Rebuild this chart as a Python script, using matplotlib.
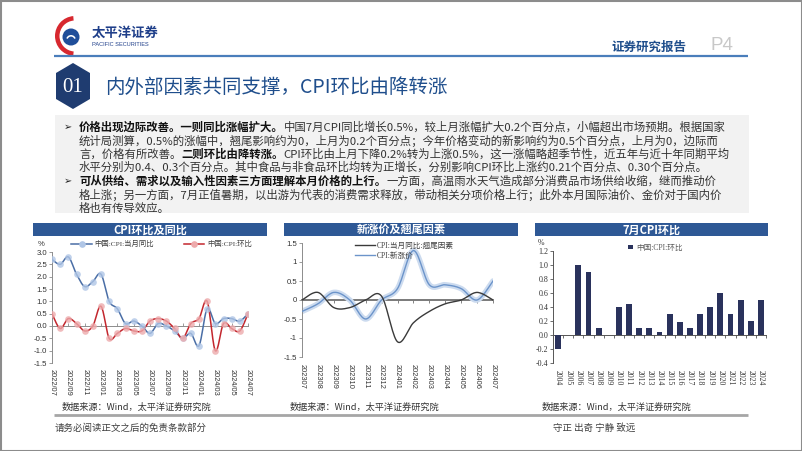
import numpy as np
import matplotlib.pyplot as plt
from matplotlib.patches import Polygon, Rectangle, Circle, Wedge
from matplotlib.lines import Line2D

# ---- data ----
# chart 1: CPI yoy / mom, 2022/07 - 2024/07
cpi_yoy = [2.7, 2.5, 2.8, 2.1, 1.6, 1.8, 2.1, 1.0, 0.7, 0.1, 0.2, 0.0, -0.3,
           0.1, 0.0, -0.2, -0.5, -0.3, -0.8, 0.7, 0.1, 0.3, 0.3, 0.2, 0.5]
cpi_mom = [0.5, -0.1, 0.3, 0.1, -0.2, 0.0, 0.8, -0.5, -0.3, -0.1, -0.2, -0.2, 0.2,
           0.3, 0.2, -0.1, -0.5, 0.1, 0.3, 1.0, -1.0, 0.1, -0.1, -0.2, 0.5]
c1_ticklabels = ['2022/07', '2022/09', '2022/11', '2023/01', '2023/03', '2023/05', '2023/07',
                 '2023/09', '2023/11', '2024/01', '2024/03', '2024/05', '2024/07']

# chart 2: tail factor / new price factor, 202307 - 202407
c2_months = ['202307', '202308', '202309', '202310', '202311', '202312', '202401',
             '202402', '202403', '202404', '202405', '202406', '202407']
tail_factor = [0.0, 0.2, -0.2, -0.2, 0.0, 0.1, -1.1, -0.6, -0.3, -0.1, 0.0, 0.2, 0.0]
new_factor = [-0.3, -0.1, 0.2, 0.0, -0.5, 0.0, 0.3, 1.3, 0.4, 0.4, 0.3, 0.0, 0.5]

# chart 3: July CPI mom by year
c3_years = ['2004', '2005', '2006', '2007', '2008', '2009', '2010', '2011', '2012', '2013', '2014',
            '2015', '2016', '2017', '2018', '2019', '2020', '2021', '2022', '2023', '2024']
july_mom = [-0.2, 0.0, 1.0, 0.9, 0.1, 0.0, 0.4, 0.45, 0.1, 0.1, 0.05,
            0.3, 0.19, 0.1, 0.3, 0.4, 0.6, 0.3, 0.5, 0.2, 0.5]

body_lines = [
    (True, [("价格出现边际改善。一则同比涨幅扩大。", True),
            ("中国7月CPI同比增长0.5%，较上月涨幅扩大0.2个百分点，小幅超出市场预期。根据国家", False)]),
    (False, [("统计局测算，0.5%的涨幅中，翘尾影响约为0，上月为0.2个百分点；今年价格变动的新影响约为0.5个百分点，上月为0，边际而", False)]),
    (False, [("言，价格有所改善。", False), ("二则环比由降转涨。", True),
             ("CPI环比由上月下降0.2%转为上涨0.5%，这一涨幅略超季节性，近五年与近十年同期平均", False)]),
    (False, [("水平分别为0.4、0.3个百分点。其中食品与非食品环比均转为正增长，分别影响CPI环比上涨约0.21个百分点、0.30个百分点。", False)]),
    (True, [("可从供给、需求以及输入性因素三方面理解本月价格的上行。", True),
            ("一方面，高温雨水天气造成部分消费品市场供给收缩，继而推动价", False)]),
    (False, [("格上涨；另一方面，7月正值暑期，以出游为代表的消费需求释放，带动相关分项价格上行；此外本月国际油价、金价对于国内价", False)]),
    (False, [("格也有传导效应。", False)]),
]

W, H = 802, 451
CJK = ['Noto Sans CJK SC', 'DejaVu Sans']
SANS = ['Liberation Sans', 'Noto Sans CJK SC']
SERIF = ['Liberation Serif', 'Noto Sans CJK SC']
BLUE_BAR = '#2E5895'
TXT = '#333333'

plt.rcParams['font.family'] = CJK
plt.rcParams['axes.unicode_minus'] = False

fig = plt.figure(figsize=(W / 100, H / 100), dpi=100)
bg = fig.add_axes([0, 0, 1, 1])
bg.set_xlim(0, W)
bg.set_ylim(H, 0)
bg.axis('off')
renderer = fig.canvas.get_renderer()


def add_ax(x0, y0, x1, y1):
    return fig.add_axes([x0 / W, 1 - y1 / H, (x1 - x0) / W, (y1 - y0) / H])


def smooth(y, n=16):
    # Excel-style smoothed line (Catmull-Rom through the data points)
    y = np.asarray(y, float)
    x = np.arange(len(y), dtype=float)
    xs, ys = [], []
    t = np.linspace(0, 1, n, endpoint=False)
    for i in range(len(y) - 1):
        i0 = max(i - 1, 0)
        i3 = min(i + 2, len(y) - 1)
        for arr, out in ((x, xs), (y, ys)):
            p0, p1, p2, p3 = arr[i0], arr[i], arr[i + 1], arr[i3]
            out.extend(0.5 * (2 * p1 + (p2 - p0) * t + (2 * p0 - 5 * p1 + 4 * p2 - p3) * t ** 2
                              + (-p0 + 3 * p1 - 3 * p2 + p3) * t ** 3))
    xs.append(x[-1])
    ys.append(y[-1])
    return xs, ys


# ---- page frame / header ----
bg.add_patch(Rectangle((0.5, 0.5), W - 1, H - 1, fill=False, ec='#8c8c8c', lw=1.5))

# logo
bg.add_patch(Wedge((75, 36), 20, 95, 265, width=4.5, fc='#D7282F', ec='none'))
bg.add_patch(Circle((71, 37), 8.5, fc='#1F4E9A', ec='none'))
bg.add_patch(Wedge((71, 40), 5, 200, 340, width=1.6, fc='white', ec='none'))
bg.text(92, 33, '太平洋证券', fontsize=9.6, fontweight='bold', color='#1F3F8A', va='center')
bg.text(92, 44.5, 'PACIFIC SECURITIES', fontsize=4.1, color='#1F3F8A', va='center', family=SANS)

bg.text(611, 47, '证券研究报告', fontsize=9, fontweight='bold', color='#1F4E8C', va='center')
bg.text(711, 46, 'P4', fontsize=13.5, color='#C8C8C8', va='center', family=SANS)
bg.plot([54, 748], [56, 56], color='#4A7EBB', lw=1.6, solid_capstyle='butt')

# section badge + title
bg.add_patch(Polygon([(56, 73), (73, 63), (90, 73), (90, 99), (73, 109), (56, 99)],
                     closed=True, fc='#1F3C70', ec='none'))
bg.text(73, 87, '01', fontsize=15, color='white', ha='center', va='center', family=SERIF)
bg.text(105, 87, '内外部因素共同支撑，CPI环比由降转涨', fontsize=14, color='#1F4E8C', va='center')

# ---- text box ----
bg.add_patch(Rectangle((55, 115), 694, 98, fc='#F2F2F2', ec='none'))
y = 127
for bullet, segs in body_lines:
    if bullet:
        bg.text(64, y, '\u27a2', fontsize=7, color='#222222', va='center', family=['DejaVu Sans'])
    x = 79
    for s, bold in segs:
        t = bg.text(x, y, s, fontsize=8.2, va='center',
                    color='#111111' if bold else TXT, fontweight='bold' if bold else 'normal')
        x += t.get_window_extent(renderer).width
    y += 13.5

# ---- chart title bars ----
for x0, x1, title in [(33, 267, 'CPI环比及同比'), (284, 518, '新涨价及翘尾因素'), (535, 768, '7月CPI环比')]:
    bg.add_patch(Rectangle((x0, 223), x1 - x0, 13, fc=BLUE_BAR, ec='none'))
    bg.text((x0 + x1) / 2, 229.8, title, fontsize=8, fontweight='bold', color='white',
            ha='center', va='center')

for x0 in (62, 290, 542):
    bg.text(x0, 407, '数据来源：Wind，太平洋证券研究院', fontsize=6.6, color=TXT, va='center')

# ---- chart 1 ----
ax1 = add_ax(52, 252, 248, 363)
n1 = len(cpi_yoy)
ax1.set_xlim(0, n1 - 1)
ax1.set_ylim(-1.5, 3.0)
xs, ys = smooth(cpi_yoy)
ax1.plot(xs, ys, color='#4A6EA6', lw=1.1, zorder=3)
ax1.plot(range(n1), cpi_yoy, ls='none', marker='o', ms=4.8, mfc='#B0C6E6', mec='none', alpha=0.8, zorder=4)
xs, ys = smooth(cpi_mom)
ax1.plot(xs, ys, color='#C3272E', lw=1.1, zorder=3)
ax1.plot(range(n1), cpi_mom, ls='none', marker='o', ms=4.8, mfc='#EDAAAC', mec='none', alpha=0.8, zorder=4)
ax1.set_yticks(np.arange(-1.5, 3.01, 0.5))
ax1.set_yticklabels(['%.1f' % v for v in np.arange(-1.5, 3.01, 0.5)], family=SANS, fontsize=5.6, color=TXT)
tick_pos1 = np.arange(0, n1, 2)
ax1.set_xticks(tick_pos1)
ax1.set_xticklabels(c1_ticklabels, rotation=-90, family=SANS, fontsize=5.3, color=TXT)
ax1.tick_params(axis='x', length=0, pad=4)
ax1.tick_params(axis='y', length=2, width=0.6, color='#8c8c8c', pad=1.5)
for s in ('top', 'right', 'bottom'):
    ax1.spines[s].set_visible(False)
ax1.spines['left'].set_color('#8c8c8c')
ax1.spines['left'].set_linewidth(0.7)
sec1 = ax1.secondary_xaxis(1.5 / 4.5)
sec1.set_xticks(tick_pos1)
sec1.tick_params(length=2, width=0.6, color='#8c8c8c', labelbottom=False, labeltop=False, direction='in')
for s in sec1.spines.values():
    s.set_color('#8c8c8c')
    s.set_linewidth(0.7)
ax1.patch.set_alpha(0)
bg.text(38, 244, '%', fontsize=5.6, color=TXT, va='center', family=SANS)
h1 = [Line2D([], [], color='#4A6EA6', lw=1.1, marker='o', ms=4.8, mfc='#B0C6E6', mec='none'),
      Line2D([], [], color='#C3272E', lw=1.1, marker='o', ms=4.8, mfc='#EDAAAC', mec='none')]
ax1.legend(h1, ['中国:CPI:当月同比', '中国:CPI:环比'], loc='center', bbox_to_anchor=(0.56, 1.075),
           ncol=2, frameon=False, prop={'family': SERIF, 'size': 5.3}, labelcolor='#404040',
           handlelength=2.8, columnspacing=4.0, handletextpad=0.4, borderaxespad=0)

# ---- chart 2 ----
ax2 = add_ax(302, 243, 493, 357)
n2 = len(tail_factor)
ax2.set_xlim(0, n2 - 1)
ax2.set_ylim(-1.5, 1.5)
xs, ys = smooth(new_factor)
ax2.plot(xs, ys, color='#CCDBEF', lw=4, solid_capstyle='round', zorder=2)
ax2.plot(xs, ys, color='#6C94CA', lw=1.0, zorder=3)
xs, ys = smooth(tail_factor)
ax2.plot(xs, ys, color='#3A3A3A', lw=1.0, zorder=4)
ax2.set_yticks([-1.5, -1, -0.5, 0, 0.5, 1, 1.5])
ax2.set_yticklabels(['-1.5', '-1', '-0.5', '0', '0.5', '1', '1.5'], family=SANS, fontsize=5.6, color=TXT)
ax2.set_xticks(range(n2))
ax2.set_xticklabels(c2_months, rotation=-90, family=SANS, fontsize=5.4, color=TXT)
ax2.tick_params(axis='x', length=0, pad=5)
ax2.tick_params(axis='y', length=2, width=0.6, color='#8c8c8c', pad=1.5)
for s in ('top', 'right', 'bottom'):
    ax2.spines[s].set_visible(False)
ax2.spines['left'].set_color('#8c8c8c')
ax2.spines['left'].set_linewidth(0.7)
sec2 = ax2.secondary_xaxis(0.5)
sec2.set_xticks(range(n2))
sec2.tick_params(length=2, width=0.6, color='#707070', labelbottom=False, labeltop=False, direction='in')
for s in sec2.spines.values():
    s.set_color('#7a7a7a')
    s.set_linewidth(1.4)
ax2.patch.set_alpha(0)
h2 = [Line2D([], [], color='#3A3A3A', lw=1.0), Line2D([], [], color='#6C94CA', lw=1.0)]
ax2.legend(h2, ['CPI:当月同比:翘尾因素', 'CPI:新涨价'], loc='upper left', bbox_to_anchor=(0.26, 1.035),
           frameon=False, prop={'family': SERIF, 'size': 5.5}, labelcolor='#404040',
           handlelength=2.6, handletextpad=0.3, labelspacing=0.25, borderaxespad=0)

# ---- chart 3 ----
ax3 = add_ax(553, 251, 766, 363)
n3 = len(july_mom)
ax3.bar(range(n3), july_mom, width=0.58, color='#2A325C', zorder=3, label='中国:CPI:环比')
ax3.set_xlim(-0.5, n3 - 0.5)
ax3.set_ylim(-0.4, 1.2)
yt3 = np.arange(-0.4, 1.21, 0.2)
ax3.set_yticks(yt3)
ax3.set_yticklabels(['%.1f' % v for v in yt3], family=SERIF, fontsize=5.8, color=TXT)
ax3.set_xticks(range(n3))
ax3.set_xticklabels(c3_years, rotation=-90, family=SERIF, fontsize=5.6, color=TXT)
ax3.tick_params(axis='x', length=0, pad=5)
ax3.tick_params(axis='y', length=2, width=0.6, color='#555555', pad=1.5)
for s in ('top', 'right', 'bottom'):
    ax3.spines[s].set_visible(False)
ax3.spines['left'].set_color('#555555')
ax3.spines['left'].set_linewidth(0.7)
sec3 = ax3.secondary_xaxis(0.4 / 1.6)
sec3.set_xticks(np.arange(-0.5, n3, 1))
sec3.tick_params(length=2, width=0.6, color='#555555', labelbottom=False, labeltop=False, direction='out')
for s in sec3.spines.values():
    s.set_color('#555555')
    s.set_linewidth(0.7)
ax3.patch.set_alpha(0)
bg.text(538, 243, '%', fontsize=5.6, color=TXT, va='center', family=SERIF)
ax3.legend(loc='center', bbox_to_anchor=(0.48, 1.03), frameon=False,
           prop={'family': SERIF, 'size': 5.5}, labelcolor='#595959',
           handlelength=0.6, handleheight=0.6, handletextpad=0.4, borderaxespad=0)

# ---- footer ----
bg.plot([54, 748], [415, 415], color='#A6A6A6', lw=2, solid_capstyle='butt')
bg.text(55, 428, '请务必阅读正文之后的免责条款部分', fontsize=6.8, color='#404040', va='center')
bg.text(553, 428, '守正 出奇 宁静 致远', fontsize=6.8, color='#404040', va='center')

fig.savefig('out.png', dpi=100)
